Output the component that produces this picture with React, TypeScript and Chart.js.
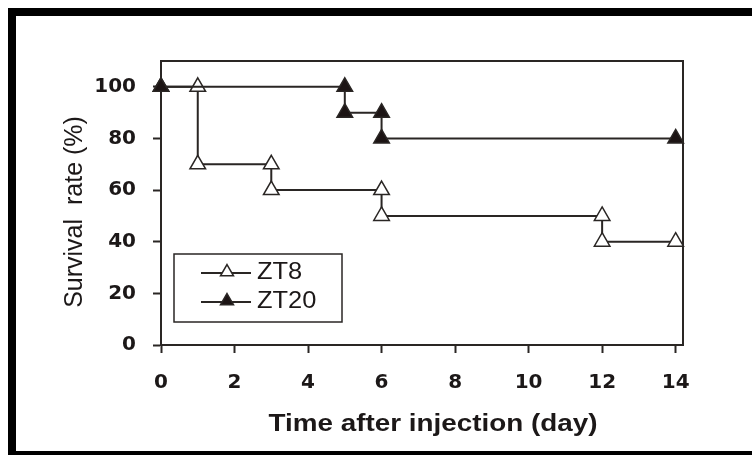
import React, { useEffect, useRef } from "react";
import { Chart, registerables } from "chart.js";

Chart.register(...registerables);

// ---- data ----
const seriesNames = ["ZT8", "ZT20"];
const zt8Days = [0, 1, 1, 3, 3, 6, 6, 12, 12, 14];
const zt8Survival = [100, 100, 70, 70, 60, 60, 50, 50, 40, 40];
const zt20Days = [0, 5, 5, 6, 6, 14];
const zt20Survival = [100, 100, 90, 90, 80, 80];
const xTickValues = [0, 2, 4, 6, 8, 10, 12, 14];
const yTickValues = [0, 20, 40, 60, 80, 100];
const xAxisTitle = "Time after injection (day)";
const yAxisTitle = "Survival  rate (%)";

const INK = "#2a2624";
const TEXT = "#1c1818";

function triangle(ctx: CanvasRenderingContext2D, x: number, y: number, r: number, fill: string) {
  ctx.beginPath();
  for (let k = 0; k < 3; k++) {
    const ang = -Math.PI / 2 + (k * 2 * Math.PI) / 3;
    const px = x + r * Math.cos(ang);
    const py = y + r * Math.sin(ang);
    if (k === 0) ctx.moveTo(px, py);
    else ctx.lineTo(px, py);
  }
  ctx.closePath();
  ctx.fillStyle = fill;
  ctx.fill();
  ctx.lineWidth = 1.5;
  ctx.strokeStyle = INK;
  ctx.stroke();
}

const decorPlugin = {
  id: "decor",
  beforeDatasetsDraw(chart: any) {
    const { ctx, chartArea: a } = chart;
    ctx.save();
    ctx.strokeStyle = INK;
    ctx.lineWidth = 2;
    ctx.beginPath();
    ctx.moveTo(a.left, a.top);
    ctx.lineTo(a.right, a.top);
    ctx.lineTo(a.right, a.bottom);
    ctx.stroke();
    ctx.restore();
  },
  afterDraw(chart: any) {
    const { ctx, chartArea: a } = chart;
    ctx.save();
    ctx.fillStyle = TEXT;
    ctx.textAlign = "center";
    ctx.textBaseline = "middle";

    // y title
    ctx.save();
    ctx.translate(a.left - 86, (a.top + a.bottom) / 2 + 9);
    ctx.rotate(-Math.PI / 2);
    ctx.font = "25px 'Liberation Sans', Arial, sans-serif";
    ctx.fillText(yAxisTitle, 0, 0);
    ctx.restore();

    // x title
    ctx.save();
    ctx.translate((a.left + a.right) / 2 + 11, a.bottom + 79);
    ctx.scale(1.16, 1);
    ctx.font = "bold 24px 'Liberation Sans', Arial, sans-serif";
    ctx.fillText(xAxisTitle, 0, 0);
    ctx.restore();

    // legend box
    const bx = a.left + 13;
    const by = a.top + 193;
    ctx.strokeStyle = INK;
    ctx.lineWidth = 1.5;
    ctx.strokeRect(bx, by, 168, 68);
    const rows = [
      { y: by + 19, fill: "#ffffff", label: chart.data.datasets[1].label },
      { y: by + 48, fill: "#1c1414", label: chart.data.datasets[0].label },
    ];
    rows.forEach((row) => {
      ctx.beginPath();
      ctx.lineWidth = 2;
      ctx.strokeStyle = INK;
      ctx.moveTo(bx + 27, row.y);
      ctx.lineTo(bx + 77, row.y);
      ctx.stroke();
      triangle(ctx, bx + 53, row.y - 1, 7.5, row.fill);
      ctx.save();
      ctx.fillStyle = TEXT;
      ctx.textAlign = "left";
      ctx.translate(bx + 83, row.y - 1);
      ctx.scale(1.06, 1);
      ctx.font = "24px 'Liberation Sans', Arial, sans-serif";
      ctx.fillText(row.label, 0, 0);
      ctx.restore();
    });
    ctx.restore();
  },
};

export default function App() {
  const canvasRef = useRef<HTMLCanvasElement | null>(null);

  useEffect(() => {
    const canvas = canvasRef.current;
    if (!canvas) return;
    const tickFont = { family: "'DejaVu Sans', 'Liberation Sans', sans-serif", size: 20, weight: "bold" as const };
    const chart = new Chart(canvas, {
      type: "line",
      data: {
        datasets: [
          {
            label: seriesNames[1],
            data: zt20Days.map((d, i) => ({ x: d, y: zt20Survival[i] })),
            borderColor: INK,
            borderWidth: 2,
            backgroundColor: "#1c1414",
            pointStyle: "triangle",
            pointRadius: 9,
            pointBorderWidth: 1.5,
            pointBackgroundColor: "#1c1414",
            pointBorderColor: INK,
            tension: 0,
            clip: false,
            order: 0,
          },
          {
            label: seriesNames[0],
            data: zt8Days.map((d, i) => ({ x: d, y: zt8Survival[i] })),
            borderColor: INK,
            borderWidth: 2,
            backgroundColor: "#ffffff",
            pointStyle: "triangle",
            pointRadius: 9,
            pointBorderWidth: 1.5,
            pointBackgroundColor: "#ffffff",
            pointBorderColor: INK,
            tension: 0,
            clip: false,
            order: 1,
          },
        ],
      },
      options: {
        animation: false,
        responsive: false,
        devicePixelRatio: 1,
        layout: { padding: { left: 0, top: 45, right: 69, bottom: 0 } },
        plugins: { legend: { display: false }, tooltip: { enabled: false } },
        scales: {
          x: {
            type: "linear",
            min: 0,
            max: 14.2,
            afterFit: (s: any) => {
              s.height = 106;
            },
            afterBuildTicks: (s: any) => {
              s.ticks = xTickValues.map((v) => ({ value: v }));
            },
            ticks: { font: tickFont, color: TEXT, padding: 18, maxRotation: 0, autoSkip: false, includeBounds: false },
            grid: { display: true, drawOnChartArea: false, drawTicks: true, tickLength: 8, tickWidth: 2, tickColor: INK },
            border: { display: true, color: INK, width: 2 },
          },
          y: {
            type: "linear",
            min: 0,
            max: 110,
            afterFit: (s: any) => {
              s.width = 145;
            },
            afterBuildTicks: (s: any) => {
              s.ticks = yTickValues.map((v) => ({ value: v }));
            },
            ticks: { font: tickFont, color: TEXT, padding: 17, autoSkip: false, includeBounds: false },
            grid: { display: true, drawOnChartArea: false, drawTicks: true, tickLength: 8, tickWidth: 2, tickColor: INK },
            border: { display: true, color: INK, width: 2 },
          },
        },
      },
      plugins: [decorPlugin],
    });
    return () => chart.destroy();
  }, []);

  return (
    <div
      style={{
        position: "fixed",
        left: 8,
        top: 8,
        width: 744,
        height: 435,
        borderTop: "8px solid #000",
        borderLeft: "8px solid #000",
        borderBottom: "8px solid #000",
        background: "#fff",
        overflow: "hidden",
      }}
    >
      <canvas ref={canvasRef} width={736} height={435} style={{ display: "block", width: 736, height: 435 }} />
    </div>
  );
}
